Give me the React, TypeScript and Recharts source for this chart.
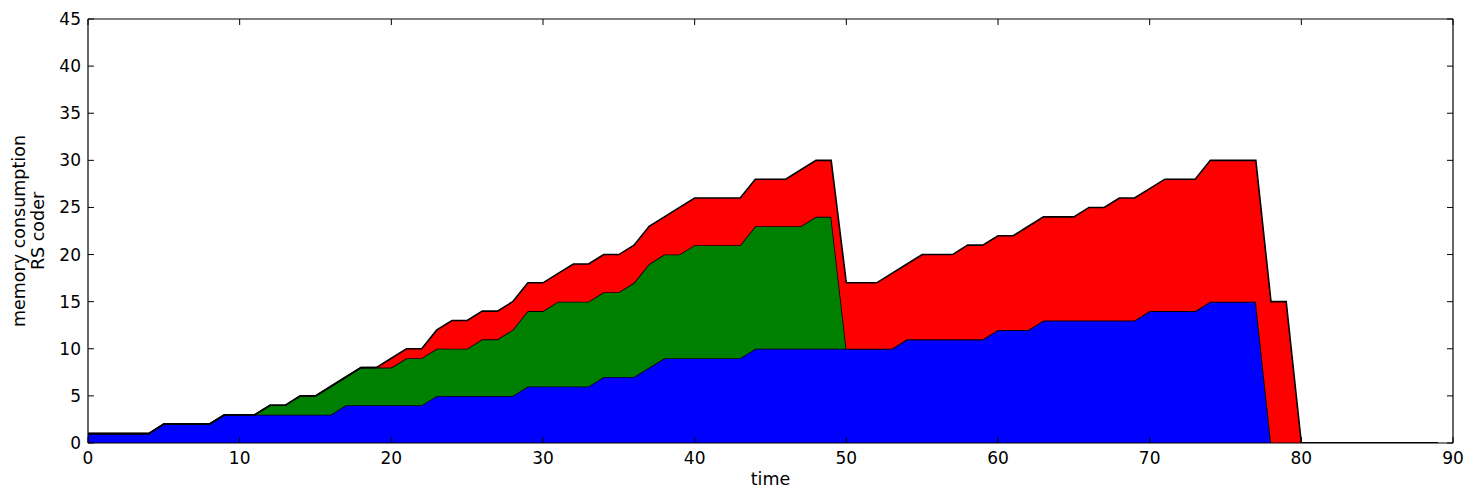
import React from 'react';
import { AreaChart, Area, XAxis, YAxis, Label } from 'recharts';

const times = Array.from({ length: 90 }, (_, i) => i);

const blueValues = [
  1, 1, 1, 1, 1, 2, 2, 2, 2, 3,
  3, 3, 3, 3, 3, 3, 3, 4, 4, 4,
  4, 4, 4, 5, 5, 5, 5, 5, 5, 6,
  6, 6, 6, 6, 7, 7, 7, 8, 9, 9,
  9, 9, 9, 9, 10, 10, 10, 10, 10, 10,
  10, 10, 10, 10, 11, 11, 11, 11, 11, 11,
  12, 12, 12, 13, 13, 13, 13, 13, 13, 13,
  14, 14, 14, 14, 15, 15, 15, 15, 0, 0,
  0, 0, 0, 0, 0, 0, 0, 0, 0, 0,
];

const greenValues = [
  0, 0, 0, 0, 0, 0, 0, 0, 0, 0,
  0, 0, 1, 1, 2, 2, 3, 3, 4, 4,
  4, 5, 5, 5, 5, 5, 6, 6, 7, 8,
  8, 9, 9, 9, 9, 9, 10, 11, 11, 11,
  12, 12, 12, 12, 13, 13, 13, 13, 14, 14,
  0, 0, 0, 0, 0, 0, 0, 0, 0, 0,
  0, 0, 0, 0, 0, 0, 0, 0, 0, 0,
  0, 0, 0, 0, 0, 0, 0, 0, 0, 0,
  0, 0, 0, 0, 0, 0, 0, 0, 0, 0,
];

const redValues = [
  0, 0, 0, 0, 0, 0, 0, 0, 0, 0,
  0, 0, 0, 0, 0, 0, 0, 0, 0, 0,
  1, 1, 1, 2, 3, 3, 3, 3, 3, 3,
  3, 3, 4, 4, 4, 4, 4, 4, 4, 5,
  5, 5, 5, 5, 5, 5, 5, 6, 6, 6,
  7, 7, 7, 8, 8, 9, 9, 9, 10, 10,
  10, 10, 11, 11, 11, 11, 12, 12, 13, 13,
  13, 14, 14, 14, 15, 15, 15, 15, 15, 15,
  0, 0, 0, 0, 0, 0, 0, 0, 0, 0,
];

const xTicks = [0, 10, 20, 30, 40, 50, 60, 70, 80, 90];
const yTicks = [0, 5, 10, 15, 20, 25, 30, 35, 40, 45];

const data = times.map((t, i) => ({
  t,
  blue: blueValues[i],
  green: greenValues[i],
  red: redValues[i],
}));

const FONT = 'DejaVu Sans';
const tickStyle = { fontFamily: FONT, fontSize: 17, fill: '#000' };
const labelStyle = { fontFamily: FONT, fontSize: 17.5, fill: '#000' };
const emptyTick = () => <g />;

const YLabel = (props: any) => {
  const vb = props.viewBox || {};
  const cy = vb.y + vb.height / 2;
  const x1 = vb.x - 9;
  const x2 = vb.x + 10;
  return (
    <g>
      <text
        x={x1}
        y={cy}
        transform={`rotate(-90, ${x1}, ${cy})`}
        textAnchor="middle"
        dominantBaseline="central"
        style={labelStyle}
      >
        memory consumption
      </text>
      <text
        x={x2}
        y={cy}
        transform={`rotate(-90, ${x2}, ${cy})`}
        textAnchor="middle"
        dominantBaseline="central"
        style={labelStyle}
      >
        RS coder
      </text>
    </g>
  );
};

const areaCommon = {
  type: 'linear' as const,
  stackId: 's',
  fillOpacity: 1,
  stroke: '#000',
  strokeWidth: 1.6,
  dot: false,
  activeDot: false,
  isAnimationActive: false,
};

export default function App() {
  return (
    <div style={{ position: 'absolute', left: 0, top: 0, background: '#fff' }}>
      <AreaChart
        width={1466}
        height={490}
        data={data}
        margin={{ top: 18, right: 12, bottom: 7, left: 28 }}
      >
        <XAxis
          dataKey="t"
          type="number"
          domain={[0, 90]}
          ticks={xTicks}
          allowDataOverflow
          height={40}
          tickSize={-6}
          tickMargin={15}
          tick={tickStyle}
          axisLine={{ stroke: '#000', strokeWidth: 1.2 }}
          tickLine={{ stroke: '#000' }}
        >
          <Label value="time" position="insideBottom" offset={-2} style={labelStyle} />
        </XAxis>
        <XAxis
          xAxisId="top"
          orientation="top"
          dataKey="t"
          type="number"
          domain={[0, 90]}
          ticks={xTicks}
          allowDataOverflow
          height={1}
          tickSize={-6}
          tick={emptyTick}
          axisLine={{ stroke: '#000', strokeWidth: 1.2 }}
          tickLine={{ stroke: '#000' }}
        />
        <YAxis
          type="number"
          domain={[0, 45]}
          ticks={yTicks}
          allowDataOverflow
          width={60}
          tickSize={-6}
          tickMargin={13}
          tick={tickStyle}
          axisLine={{ stroke: '#000', strokeWidth: 1.2 }}
          tickLine={{ stroke: '#000' }}
          label={<YLabel />}
        />
        <YAxis
          yAxisId="right"
          orientation="right"
          type="number"
          domain={[0, 45]}
          ticks={yTicks}
          allowDataOverflow
          width={1}
          tickSize={-6}
          tick={emptyTick}
          axisLine={{ stroke: '#000', strokeWidth: 1.2 }}
          tickLine={{ stroke: '#000' }}
        />
        <Area {...areaCommon} dataKey="blue" fill="#0000ff" />
        <Area {...areaCommon} dataKey="green" fill="#008000" />
        <Area {...areaCommon} dataKey="red" fill="#ff0000" />
      </AreaChart>
    </div>
  );
}
